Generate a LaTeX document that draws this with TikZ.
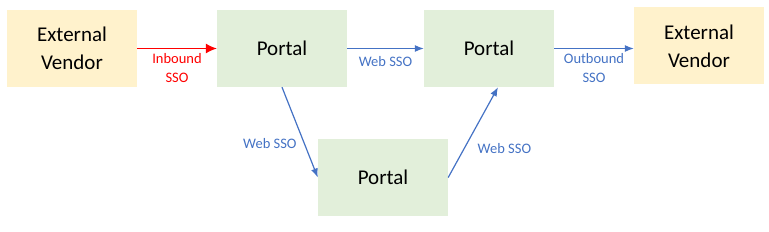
\documentclass[tikz,border=0pt]{standalone}
\usepackage{fontspec}
\setmainfont{Carlito}
\usetikzlibrary{arrows.meta}
\usetikzlibrary{positioning}

\definecolor{vendorfill}{HTML}{FFF2CC}
\definecolor{portalfill}{HTML}{E2EFDA}
\definecolor{ssoblue}{HTML}{4472C4}

\begin{document}
\begin{tikzpicture}[x=1pt, y=-1pt,
    vendor/.style={fill=vendorfill, minimum width=130pt, minimum height=77pt, align=center, font=\fontsize{21}{28}\selectfont},
    portal/.style={fill=portalfill, minimum width=130pt, minimum height=77pt, font=\fontsize{21}{28}\selectfont},
    ssotext/.style={text=ssoblue, align=center, inner sep=4pt, font=\fontsize{14.5}{19}\selectfont},
    ssoline/.style={draw=ssoblue, line width=1.2pt, -{Latex[length=9pt, width=7pt]}}]
        \useasboundingbox (0,0) rectangle (769,232);

        \node[vendor] (vendorIn) at (72, 48.5) {External\\Vendor};

        \node[portal] (portalA) at (282, 48.5) {Portal};

        \node[portal] (portalB) at (489, 48.5) {Portal};

        \node[vendor] (vendorOut) at (699, 46) {External\\Vendor};

        \node[portal] (portalC) at (383, 177.5) {Portal};

        \draw[red, line width=1.2pt, -{Latex[length=11pt, width=10pt]}] (vendorIn.east) -- (portalA.west) node[midway, below, text=red, align=center, inner sep=4pt, font=\fontsize{14.5}{19}\selectfont] {Inbound\\SSO};
        \draw[ssoline] (portalA.east) -- (portalB.west) node[midway, below, ssotext, yshift=-3pt] {Web SSO};
        \draw[ssoline] (portalB.east) -- (vendorOut.west |- portalB.east) node[midway, below, ssotext] {Outbound\\SSO};
        \draw[ssoline] (portalA.south) -- (portalC.west) node[pos=0.62, left, ssotext, xshift=-3pt] {Web SSO};
        \draw[ssoline] (portalC.east) -- ([xshift=9pt]portalB.south) node[pos=0.32, right, ssotext, xshift=9pt] {Web SSO};
      \end{tikzpicture}
\end{document}
